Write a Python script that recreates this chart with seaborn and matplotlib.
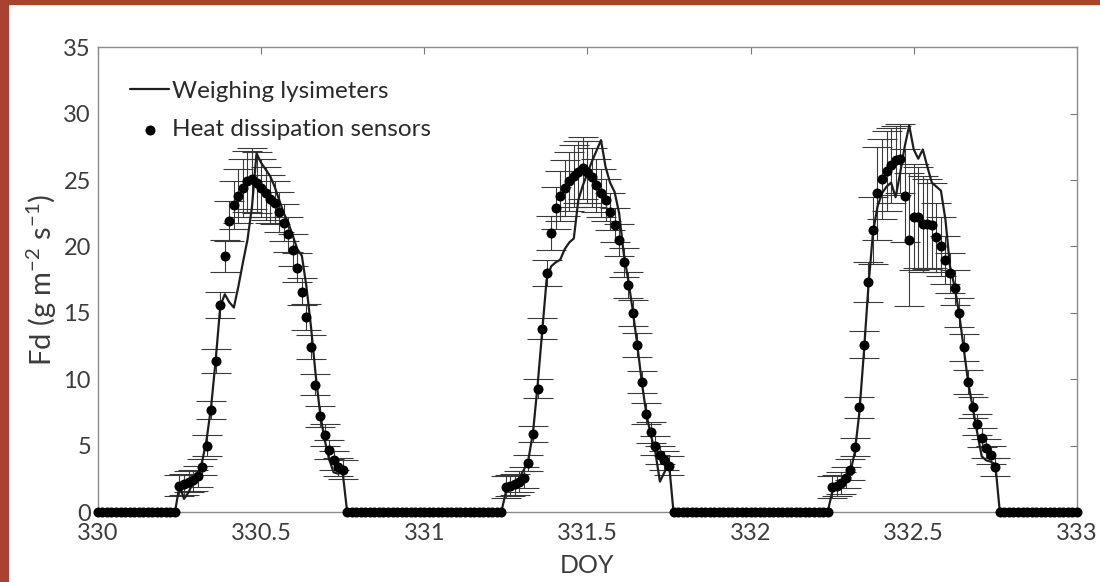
#!/usr/bin/env python3
"""Sap flux density: weighing lysimeters vs heat dissipation sensors, DOY 330-333."""

import matplotlib
matplotlib.use("Agg")
import matplotlib.pyplot as plt
from matplotlib.patches import Rectangle
import numpy as np
import pandas as pd
import seaborn as sns


# 20-minute sampling, DOY 330.0 .. 333.0 -> 217 samples
STEPS_PER_DAY = 72
DOY_START = 330
N_DAYS = 3

# zeros at night (read as a flat line on 0)
NIGHT_BEFORE = 18
NIGHT_BETWEEN = 35
NIGHT_AFTER = 18

# daytime samples (37 per day), heat dissipation sensors mean
SENSOR_DAY1 = [2.0, 2.1, 2.3, 2.4, 2.7, 3.4, 5.0, 7.7, 11.4, 15.6,
               19.3, 21.9, 23.1, 23.8, 24.4, 24.9, 25.1, 24.8, 24.4, 24.0,
               23.6, 23.3, 22.6, 21.8, 20.9, 19.7, 18.4, 16.6, 14.7, 12.4,
               9.6, 7.2, 5.8, 4.7, 3.9, 3.4, 3.2]
SENSOR_DAY2 = [1.9, 2.0, 2.1, 2.3, 2.6, 3.7, 5.9, 9.3, 13.8, 18.0,
               21.0, 22.9, 23.8, 24.4, 24.9, 25.3, 25.6, 25.9, 25.6, 25.2,
               24.6, 24.0, 23.5, 22.6, 21.6, 20.5, 18.8, 17.1, 15.0, 12.6,
               9.8, 7.4, 6.0, 5.0, 4.3, 3.9, 3.5]
SENSOR_DAY3 = [1.9, 2.0, 2.2, 2.6, 3.2, 4.9, 7.9, 12.6, 17.3, 21.2,
               24.0, 25.1, 25.7, 26.1, 26.5, 26.6, 23.8, 20.5, 22.2, 22.2,
               21.7, 21.7, 21.6, 20.7, 20.0, 19.0, 18.0, 16.9, 15.0, 12.4,
               9.8, 7.9, 6.6, 5.6, 4.8, 4.3, 3.4]

# error bar half-lengths for the sensors
ERR_DAY1 = [0.8, 0.8, 0.8, 0.8, 0.8, 0.6, 0.8, 0.7, 0.9, 1.0,
            1.2, 1.5, 1.8, 2.0, 2.2, 2.3, 2.3, 2.3, 2.2, 2.0,
            1.8, 1.6, 1.5, 1.4, 1.3, 1.2, 1.1, 1.0, 1.0, 0.9,
            0.8, 0.8, 0.8, 0.7, 0.7, 0.7, 0.7]
ERR_DAY2 = [0.8, 0.8, 0.8, 0.8, 0.8, 0.6, 0.6, 0.7, 0.8, 1.0,
            1.3, 1.6, 1.9, 2.1, 2.2, 2.3, 2.3, 2.3, 2.3, 2.2,
            2.0, 1.8, 1.6, 1.4, 1.3, 1.2, 1.1, 1.0, 1.0, 0.9,
            0.8, 0.8, 0.8, 0.7, 0.7, 0.7, 0.7]
ERR_DAY3 = [0.8, 0.8, 0.8, 0.8, 0.8, 0.7, 0.8, 1.0, 1.5, 2.5,
            3.5, 3.0, 3.0, 2.8, 2.6, 2.6, 3.5, 5.0, 4.0, 3.8,
            3.6, 3.4, 3.2, 2.6, 2.2, 1.8, 1.5, 1.3, 1.1, 1.0,
            0.9, 0.8, 0.8, 0.7, 0.7, 0.7, 0.7]

# weighing lysimeters
LYSI_DAY1 = [2.0, 1.0, 1.5, 2.2, 2.8, 3.8, 5.5, 8.0, 11.5, 15.5,
             16.4, 15.8, 15.4, 17.0, 18.8, 20.5, 23.0, 27.0, 26.3, 25.8,
             25.3, 24.5, 23.5, 22.5, 21.8, 20.8, 19.8, 19.3, 17.0, 14.0,
             10.5, 7.5, 5.5, 4.0, 3.0, 2.9, 3.0]
LYSI_DAY2 = [1.5, 2.0, 2.2, 2.6, 3.2, 4.0, 6.0, 9.5, 13.5, 17.5,
             18.5, 18.8, 19.0, 19.8, 20.3, 20.6, 23.5, 24.6, 25.5, 26.4,
             27.2, 28.0, 26.0, 24.8, 24.1, 22.5, 19.5, 17.5, 15.2, 12.6,
             9.8, 7.4, 5.8, 4.5, 2.3, 3.0, 3.7]
LYSI_DAY3 = [1.5, 1.8, 2.0, 2.4, 3.0, 4.5, 7.5, 12.0, 17.0, 21.0,
             23.0, 24.0, 24.5, 24.8, 23.7, 25.5, 27.5, 29.1, 27.3, 26.6,
             27.3, 26.0, 24.8, 24.5, 24.2, 22.0, 18.5, 17.0, 15.0, 12.4,
             9.8, 7.9, 6.0, 4.2, 3.9, 3.8, 3.6]

X_TICKS = [330, 330.5, 331, 331.5, 332, 332.5, 333]
X_TICK_LABELS = ["330", "330.5", "331", "331.5", "332", "332.5", "333"]
Y_TICKS = [0, 5, 10, 15, 20, 25, 30, 35]


def full_series(day1, day2, day3):
    return ([0.0] * NIGHT_BEFORE + day1 + [0.0] * NIGHT_BETWEEN + day2
            + [0.0] * NIGHT_BETWEEN + day3 + [0.0] * NIGHT_AFTER)


def main():
    sns.set_theme(style="white")
    plt.rcParams["font.family"] = ["Lato", "DejaVu Sans"]
    plt.rcParams["mathtext.fontset"] = "custom"
    plt.rcParams["mathtext.rm"] = "Lato"
    plt.rcParams["mathtext.it"] = "Lato:italic"

    n = STEPS_PER_DAY * N_DAYS + 1
    doy = DOY_START + np.arange(n) / STEPS_PER_DAY
    df = pd.DataFrame({
        "DOY": doy,
        "sensor": full_series(SENSOR_DAY1, SENSOR_DAY2, SENSOR_DAY3),
        "err": full_series(ERR_DAY1, ERR_DAY2, ERR_DAY3),
        "lysimeter": full_series(LYSI_DAY1, LYSI_DAY2, LYSI_DAY3),
    })

    fig = plt.figure(figsize=(11, 5.82), dpi=100)
    ax = fig.add_axes([0.089, 0.120, 0.890, 0.799])

    day = df[df["err"] > 0]
    ax.errorbar(day["DOY"], day["sensor"], yerr=day["err"], fmt="none",
                ecolor="#3a3a3a", elinewidth=0.8, capsize=11, capthick=0.8,
                zorder=2)
    sns.lineplot(data=df, x="DOY", y="lysimeter", color="#1e1e1e",
                 linewidth=1.6, ax=ax, zorder=3, label="Weighing lysimeters")
    sns.scatterplot(data=df, x="DOY", y="sensor", color="black", s=52,
                    edgecolor="black", linewidth=0, ax=ax, zorder=4,
                    clip_on=False, label="Heat dissipation sensors")

    ax.set_xlim(330, 333)
    ax.set_ylim(0, 35)
    ax.set_xticks(X_TICKS)
    ax.set_xticklabels(X_TICK_LABELS)
    ax.set_yticks(Y_TICKS)
    ax.tick_params(direction="in", length=5, width=0.8, color="#777777",
                   top=True, right=True, labelsize=17, labelcolor="#3c3c3c")
    ax.tick_params(axis="x", pad=8)
    ax.tick_params(axis="y", pad=5)
    for spine in ax.spines.values():
        spine.set_color("#8c8c8c")
        spine.set_linewidth(1.0)

    ax.set_xlabel("DOY", fontsize=18, color="#3c3c3c", labelpad=7)
    ax.set_ylabel("Fd (g m$^{-2}$ s$^{-1}$)", fontsize=21, color="#3c3c3c",
                  labelpad=3)

    ax.legend(loc="upper left", bbox_to_anchor=(0.033, 0.928), frameon=False,
              fontsize=17.5, handlelength=1.6, handletextpad=0.1,
              labelspacing=0.72, borderpad=0, borderaxespad=0,
              labelcolor="#2a2a2a")

    # brick-red frame strips at the left and top of the picture
    fig.patches.append(Rectangle((0, 0), 8 / 1100, 1, transform=fig.transFigure,
                                 color="#a9432f", zorder=10))
    fig.patches.append(Rectangle((0, 1 - 4 / 582), 1, 4 / 582,
                                 transform=fig.transFigure, color="#a9432f",
                                 zorder=10))

    fig.savefig("out.png", dpi=100)
    plt.close(fig)


if __name__ == "__main__":
    main()
